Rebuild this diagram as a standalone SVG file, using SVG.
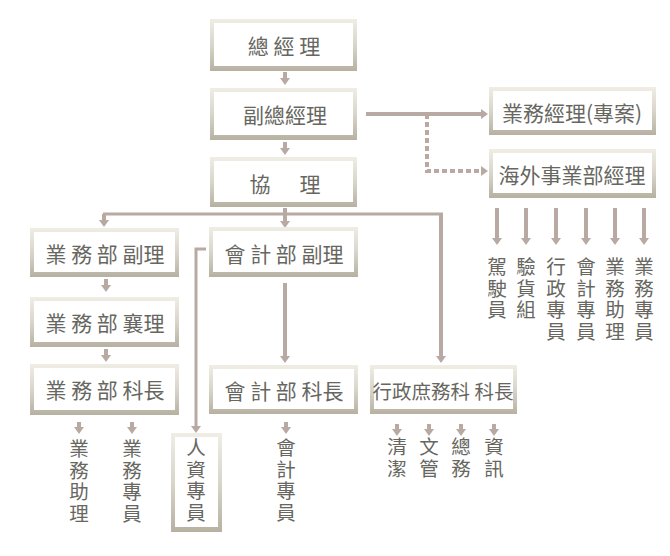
<svg xmlns="http://www.w3.org/2000/svg" width="670" height="556" viewBox="0 0 670 556">
<defs>
<linearGradient id="fr" x1="0" y1="0" x2="0" y2="1">
<stop offset="0" stop-color="#f0ede5"/>
<stop offset="0.5" stop-color="#d9d5ca"/>
<stop offset="1" stop-color="#b6b1a1"/>
</linearGradient>
<marker id="ah" viewBox="0 0 7 10" refX="0" refY="5" markerWidth="7" markerHeight="10" markerUnits="userSpaceOnUse" orient="auto">
<path d="M0,0 L7,5 L0,10 Z" fill="#b8aaa2"/>
</marker>
</defs>
<style>
.fo{fill:url(#fr)}
.fi{fill:#ffffff}
.t{font-family:"Noto Sans CJK TC","Noto Sans CJK SC",sans-serif;font-size:21px;fill:#67675f;text-anchor:middle;dominant-baseline:central}
.v{font-family:"Noto Sans CJK TC","Noto Sans CJK SC",sans-serif;font-size:19.5px;fill:#67675f;writing-mode:vertical-rl;text-anchor:start;letter-spacing:2px}
.c{fill:none;stroke:#b8aaa2;stroke-width:4}
.cm{fill:none;stroke:#b8aaa2;stroke-width:4;marker-end:url(#ah)}
.ct{fill:none;stroke:#b8aaa2;stroke-width:3}
.cd{fill:none;stroke:#b8aaa2;stroke-width:4;stroke-dasharray:5 3;marker-end:url(#ah)}
</style>
<rect width="670" height="556" fill="#ffffff"/>

<g id="connectors">
<path class="cm" d="M285,72 V78"/>
<path class="cm" d="M285,142 V148"/>
<path class="ct" d="M103,214 H443"/>
<path class="cm" d="M104,214 V220"/>
<path class="cm" d="M285,208 V221"/>
<path class="cm" d="M441,214 V356"/>
<path class="cm" d="M366,114 H481"/>
<path class="cd" d="M427,114 V171 H481"/>
<path class="cm" d="M106,279 V285"/>
<path class="cm" d="M106,349 V355"/>
<path class="cm" stroke-width="5" d="M285,283 V356"/>
<path class="ct" d="M206,249 H196 V426"/>
<path d="M191,426 L196,433 L201,426 Z" fill="#b8aaa2"/>
<path class="cm" d="M497,208 V238"/>
<path class="cm" d="M526,208 V238"/>
<path class="cm" d="M556,208 V238"/>
<path class="cm" d="M586,208 V238"/>
<path class="cm" d="M615,208 V238"/>
<path class="cm" d="M644,208 V238"/>
<path class="cm" d="M79,422 V427"/>
<path class="cm" d="M132,422 V427"/>
<path class="cm" d="M286,422 V427"/>
<path class="cm" d="M397,424 V429"/>
<path class="cm" d="M429,424 V429"/>
<path class="cm" d="M461,424 V429"/>
<path class="cm" d="M494,424 V429"/>
</g>

<g id="n-gm">
<rect class="fo" x="210" y="19" width="147" height="52"/>
<rect class="fi" x="214" y="23" width="139" height="43"/>
<text class="t" x="284" y="45">總 經 理</text>
</g>
<g id="n-dgm">
<rect class="fo" x="210" y="88" width="147" height="52"/>
<rect class="fi" x="214" y="92" width="139" height="43"/>
<text class="t" x="285" y="114">副總經理</text>
</g>
<g id="n-asst">
<rect class="fo" x="210" y="157" width="147" height="50"/>
<rect class="fi" x="214" y="161" width="139" height="41"/>
<text class="t" x="287" y="183" style="letter-spacing:4px">協　理</text>
</g>
<g id="n-bm">
<rect class="fo" x="489" y="87" width="167" height="48"/>
<rect class="fi" x="493" y="91" width="159" height="39"/>
<text class="t" x="572" y="112">業務經理(專案)</text>
</g>
<g id="n-ob">
<rect class="fo" x="489" y="149" width="167" height="49"/>
<rect class="fi" x="493" y="153" width="159" height="40"/>
<text class="t" x="572" y="174">海外事業部經理</text>
</g>
<g id="n-bdm">
<rect class="fo" x="30" y="228" width="149" height="49"/>
<rect class="fi" x="34" y="232" width="141" height="40"/>
<text class="t" x="105" y="253">業 務 部 副理</text>
</g>
<g id="n-bas">
<rect class="fo" x="30" y="297" width="149" height="50"/>
<rect class="fi" x="34" y="301" width="141" height="41"/>
<text class="t" x="105" y="322">業 務 部 襄理</text>
</g>
<g id="n-bsc">
<rect class="fo" x="30" y="364" width="149" height="51"/>
<rect class="fi" x="34" y="368" width="141" height="42"/>
<text class="t" x="105" y="389">業 務 部 科長</text>
</g>
<g id="n-adm">
<rect class="fo" x="209" y="227" width="149" height="50"/>
<rect class="fi" x="213" y="231" width="141" height="41"/>
<text class="t" x="284" y="253">會 計 部 副理</text>
</g>
<g id="n-asc">
<rect class="fo" x="209" y="365" width="149" height="49"/>
<rect class="fi" x="213" y="369" width="141" height="40"/>
<text class="t" x="284" y="390">會 計 部 科長</text>
</g>
<g id="n-gsc">
<rect class="fo" x="370" y="365" width="147" height="49"/>
<rect class="fi" x="374" y="369" width="139" height="40"/>
<text class="t" x="443" y="390" style="font-size:19.5px">行政庶務科 科長</text>
</g>
<g id="n-hr">
<rect class="fo" x="171" y="433" width="51" height="99"/>
<rect class="fi" x="175" y="437" width="43" height="90"/>
<text class="v" x="196" y="438">人資專員</text>
</g>

<g id="labels">
<text class="v" x="497" y="257">駕駛員</text>
<text class="v" x="526" y="257">驗貨組</text>
<text class="v" x="556" y="257">行政專員</text>
<text class="v" x="586" y="257">會計專員</text>
<text class="v" x="615" y="257">業務助理</text>
<text class="v" x="644" y="257">業務專員</text>
<text class="v" x="79" y="439">業務助理</text>
<text class="v" x="132" y="439">業務專員</text>
<text class="v" x="286" y="438">會計專員</text>
<text class="v" x="397" y="437">清潔</text>
<text class="v" x="429" y="437">文管</text>
<text class="v" x="461" y="437">總務</text>
<text class="v" x="494" y="437">資訊</text>
</g>
</svg>
